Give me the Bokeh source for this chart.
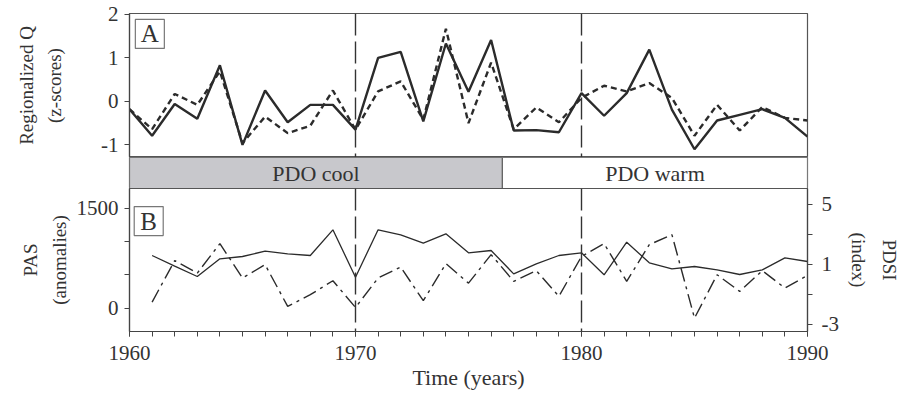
from bokeh.plotting import figure
from bokeh.models import Range1d, LinearAxis, FixedTicker, Span
from bokeh.layouts import column
from bokeh.embed import file_html
from bokeh.resources import INLINE
from bokeh.core.properties import value

# ---------------- data ----------------
years = list(range(1960, 1991))
q_regional = [-0.18, -0.79, -0.06, -0.40, 0.83, -1.00, 0.25, -0.48, -0.08, -0.08,
              -0.65, 1.00, 1.14, -0.46, 1.33, 0.22, 1.41, -0.67, -0.66, -0.71,
              0.19, -0.33, 0.19, 1.19, -0.19, -1.10, -0.44, -0.31, -0.18, -0.38, -0.81]
q_model = [-0.18, -0.64, 0.17, -0.08, 0.69, -0.96, -0.35, -0.73, -0.56, 0.25,
           -0.65, 0.23, 0.46, -0.42, 1.67, -0.50, 0.89, -0.64, -0.14, -0.48,
           0.08, 0.36, 0.23, 0.42, 0.08, -0.79, -0.08, -0.67, -0.13, -0.38, -0.44]

pas_years = list(range(1961, 1991))
pas = [790, 630, 475, 740, 775, 855, 815, 790, 1175, 465,
       1175, 1100, 975, 1115, 830, 865, 515, 665, 790, 830,
       500, 990, 680, 590, 625, 575, 505, 575, 755, 700]
pdsi = [-1.51, 1.25, 0.42, 2.38, 0.09, 0.98, -1.80, -1.02, -0.09, -1.87,
        0.09, 0.82, -1.42, 1.05, -0.25, 1.65, -0.13, 0.58, -1.13, 1.53,
        2.38, -0.13, 2.31, 2.98, -2.58, 0.31, -0.80, 0.58, -0.58, 0.27]

pdo_labels = ["PDO cool", "PDO warm"]
pdo_start = [1960, 1976.5]
pdo_end = [1976.5, 1990]
pdo_fill = ["#c8c8cc", "#ffffff"]

regime_shifts = [1970, 1980]

q_ticks = [-1, 0, 1, 2]
q_tick_text = {-1: "-1"}
pas_ticks = [0, 500, 1000, 1500]
pas_tick_text = {500: "", 1000: ""}
pdsi_ticks = [-3, -1, 1, 3, 5]
pdsi_tick_text = {-3: "-3", -1: "", 3: ""}
year_ticks = [1960, 1970, 1980, 1990]

# ---------------- style ----------------
FONT = "Liberation Serif"
INK = "#333333"
AX = "#444444"
W = 904
BL, BR = 129, 97

xr = Range1d(1960, 1990)


def style_axis(ax, label_size="21px"):
    ax.axis_line_color = AX
    ax.axis_line_width = 1.2
    ax.major_tick_line_color = AX
    ax.minor_tick_line_color = AX
    ax.major_tick_out = 5
    ax.major_tick_in = 0
    ax.minor_tick_out = 5
    ax.minor_tick_in = 0
    ax.major_label_text_font = FONT
    ax.major_label_text_font_size = label_size
    ax.major_label_text_color = INK
    ax.axis_label_text_font = FONT
    ax.axis_label_text_font_style = "normal"
    ax.axis_label_text_color = INK


def base(height, yr, top, bottom, **kw):
    p = figure(width=W, height=height, x_range=xr, y_range=yr,
               output_backend="svg", toolbar_location=None,
               min_border_left=BL, min_border_right=BR,
               min_border_top=top, min_border_bottom=bottom, **kw)
    p.grid.visible = False
    p.background_fill_color = "white"
    p.border_fill_color = "white"
    return p


# ---------------- panel A ----------------
pA = base(157, Range1d(-1.29, 2.02), 13, 0, x_axis_location=None)
pA.outline_line_color = "#555555"
pA.outline_line_width = 1.2
ya = pA.yaxis[0]
ya.ticker = FixedTicker(ticks=q_ticks)
ya.major_label_overrides = q_tick_text
style_axis(ya)
ya.major_label_standoff = 6
ya.axis_label = "Regionalized Q\n(z-scores)"
ya.axis_label_text_font_size = "19px"
ya.axis_label_standoff = 33
ya.axis_label_text_line_height = 1.35

pA.line(years, q_model, line_color="#2b2b2b", line_width=2.4, line_dash="6 4")
pA.line(years, q_regional, line_color="#2b2b2b", line_width=2.4)
for yv in regime_shifts:
    pA.add_layout(Span(location=yv, dimension="height", line_color=INK,
                       line_width=1.4, line_dash="22 6"))
pA.rect(x=[1960.9], y=[1.55], width=29, height=29, width_units="screen",
        height_units="screen", fill_color="white", line_color="#777777", line_width=1.2)
pA.text(x=[1960.9], y=[1.55], text=["A"], text_align="center", text_baseline="middle",
        text_font=value(FONT), text_font_size="25px", text_color=INK)

# ---------------- PDO bar ----------------
pBar = base(31, Range1d(0, 1), 0, 0, x_axis_location=None, y_axis_location=None)
pBar.outline_line_color = "#666666"
pBar.outline_line_width = 1.2
pBar.quad(left=pdo_start, right=pdo_end, bottom=0, top=1,
          fill_color=pdo_fill, line_color="#666666", line_width=1.2)
mids = [(a + b) / 2 for a, b in zip(pdo_start, pdo_end)]
pBar.text(x=mids, y=[0.5] * len(mids), text=pdo_labels, text_align="center",
          text_baseline="middle", text_font=value(FONT), text_font_size="22px",
          text_color=INK)

# ---------------- panel B ----------------
pB = base(210, Range1d(-350, 1795), 0, 67)
pB.outline_line_color = "#555555"
pB.outline_line_width = 1.2
pB.extra_y_ranges = {"pdsi": Range1d(-3.47, 6.05)}

yb = pB.yaxis[0]
yb.ticker = FixedTicker(ticks=pas_ticks)
yb.major_label_overrides = pas_tick_text
style_axis(yb)
yb.major_label_standoff = 6
yb.axis_label = "PAS\n(anomalies)"
yb.axis_label_text_font_size = "19px"
yb.axis_label_standoff = 4
yb.axis_label_text_line_height = 1.35

yr_ax = LinearAxis(y_range_name="pdsi")
yr_ax.ticker = FixedTicker(ticks=pdsi_ticks)
yr_ax.major_label_overrides = pdsi_tick_text
style_axis(yr_ax)
yr_ax.major_label_standoff = 9
yr_ax.axis_label = "PDSI\n(index)"
yr_ax.axis_label_text_font_size = "19px"
yr_ax.axis_label_standoff = 6
yr_ax.axis_label_text_line_height = 1.5
pB.add_layout(yr_ax, "right")

xa = pB.xaxis[0]
xa.ticker = FixedTicker(ticks=year_ticks, minor_ticks=years)
style_axis(xa)
xa.major_label_standoff = 9
xa.axis_label = "Time (years)"
xa.axis_label_text_font_size = "22px"
xa.axis_label_standoff = 2

pB.line(pas_years, pdsi, y_range_name="pdsi", line_color="#2b2b2b",
        line_width=1.4, line_dash="14 5 3 5")
pB.line(pas_years, pas, line_color="#2b2b2b", line_width=1.3)
for yv in regime_shifts:
    pB.add_layout(Span(location=yv, dimension="height", line_color=INK,
                       line_width=1.4, line_dash="22 6"))
pB.rect(x=[1960.85], y=[1307], width=29, height=29, width_units="screen",
        height_units="screen", fill_color="white", line_color="#777777", line_width=1.2)
pB.text(x=[1960.85], y=[1307], text=["B"], text_align="center", text_baseline="middle",
        text_font=value(FONT), text_font_size="25px", text_color=INK)

layout = column(pA, pBar, pB, spacing=0)
open("out.html", "w").write(file_html(layout, INLINE))
